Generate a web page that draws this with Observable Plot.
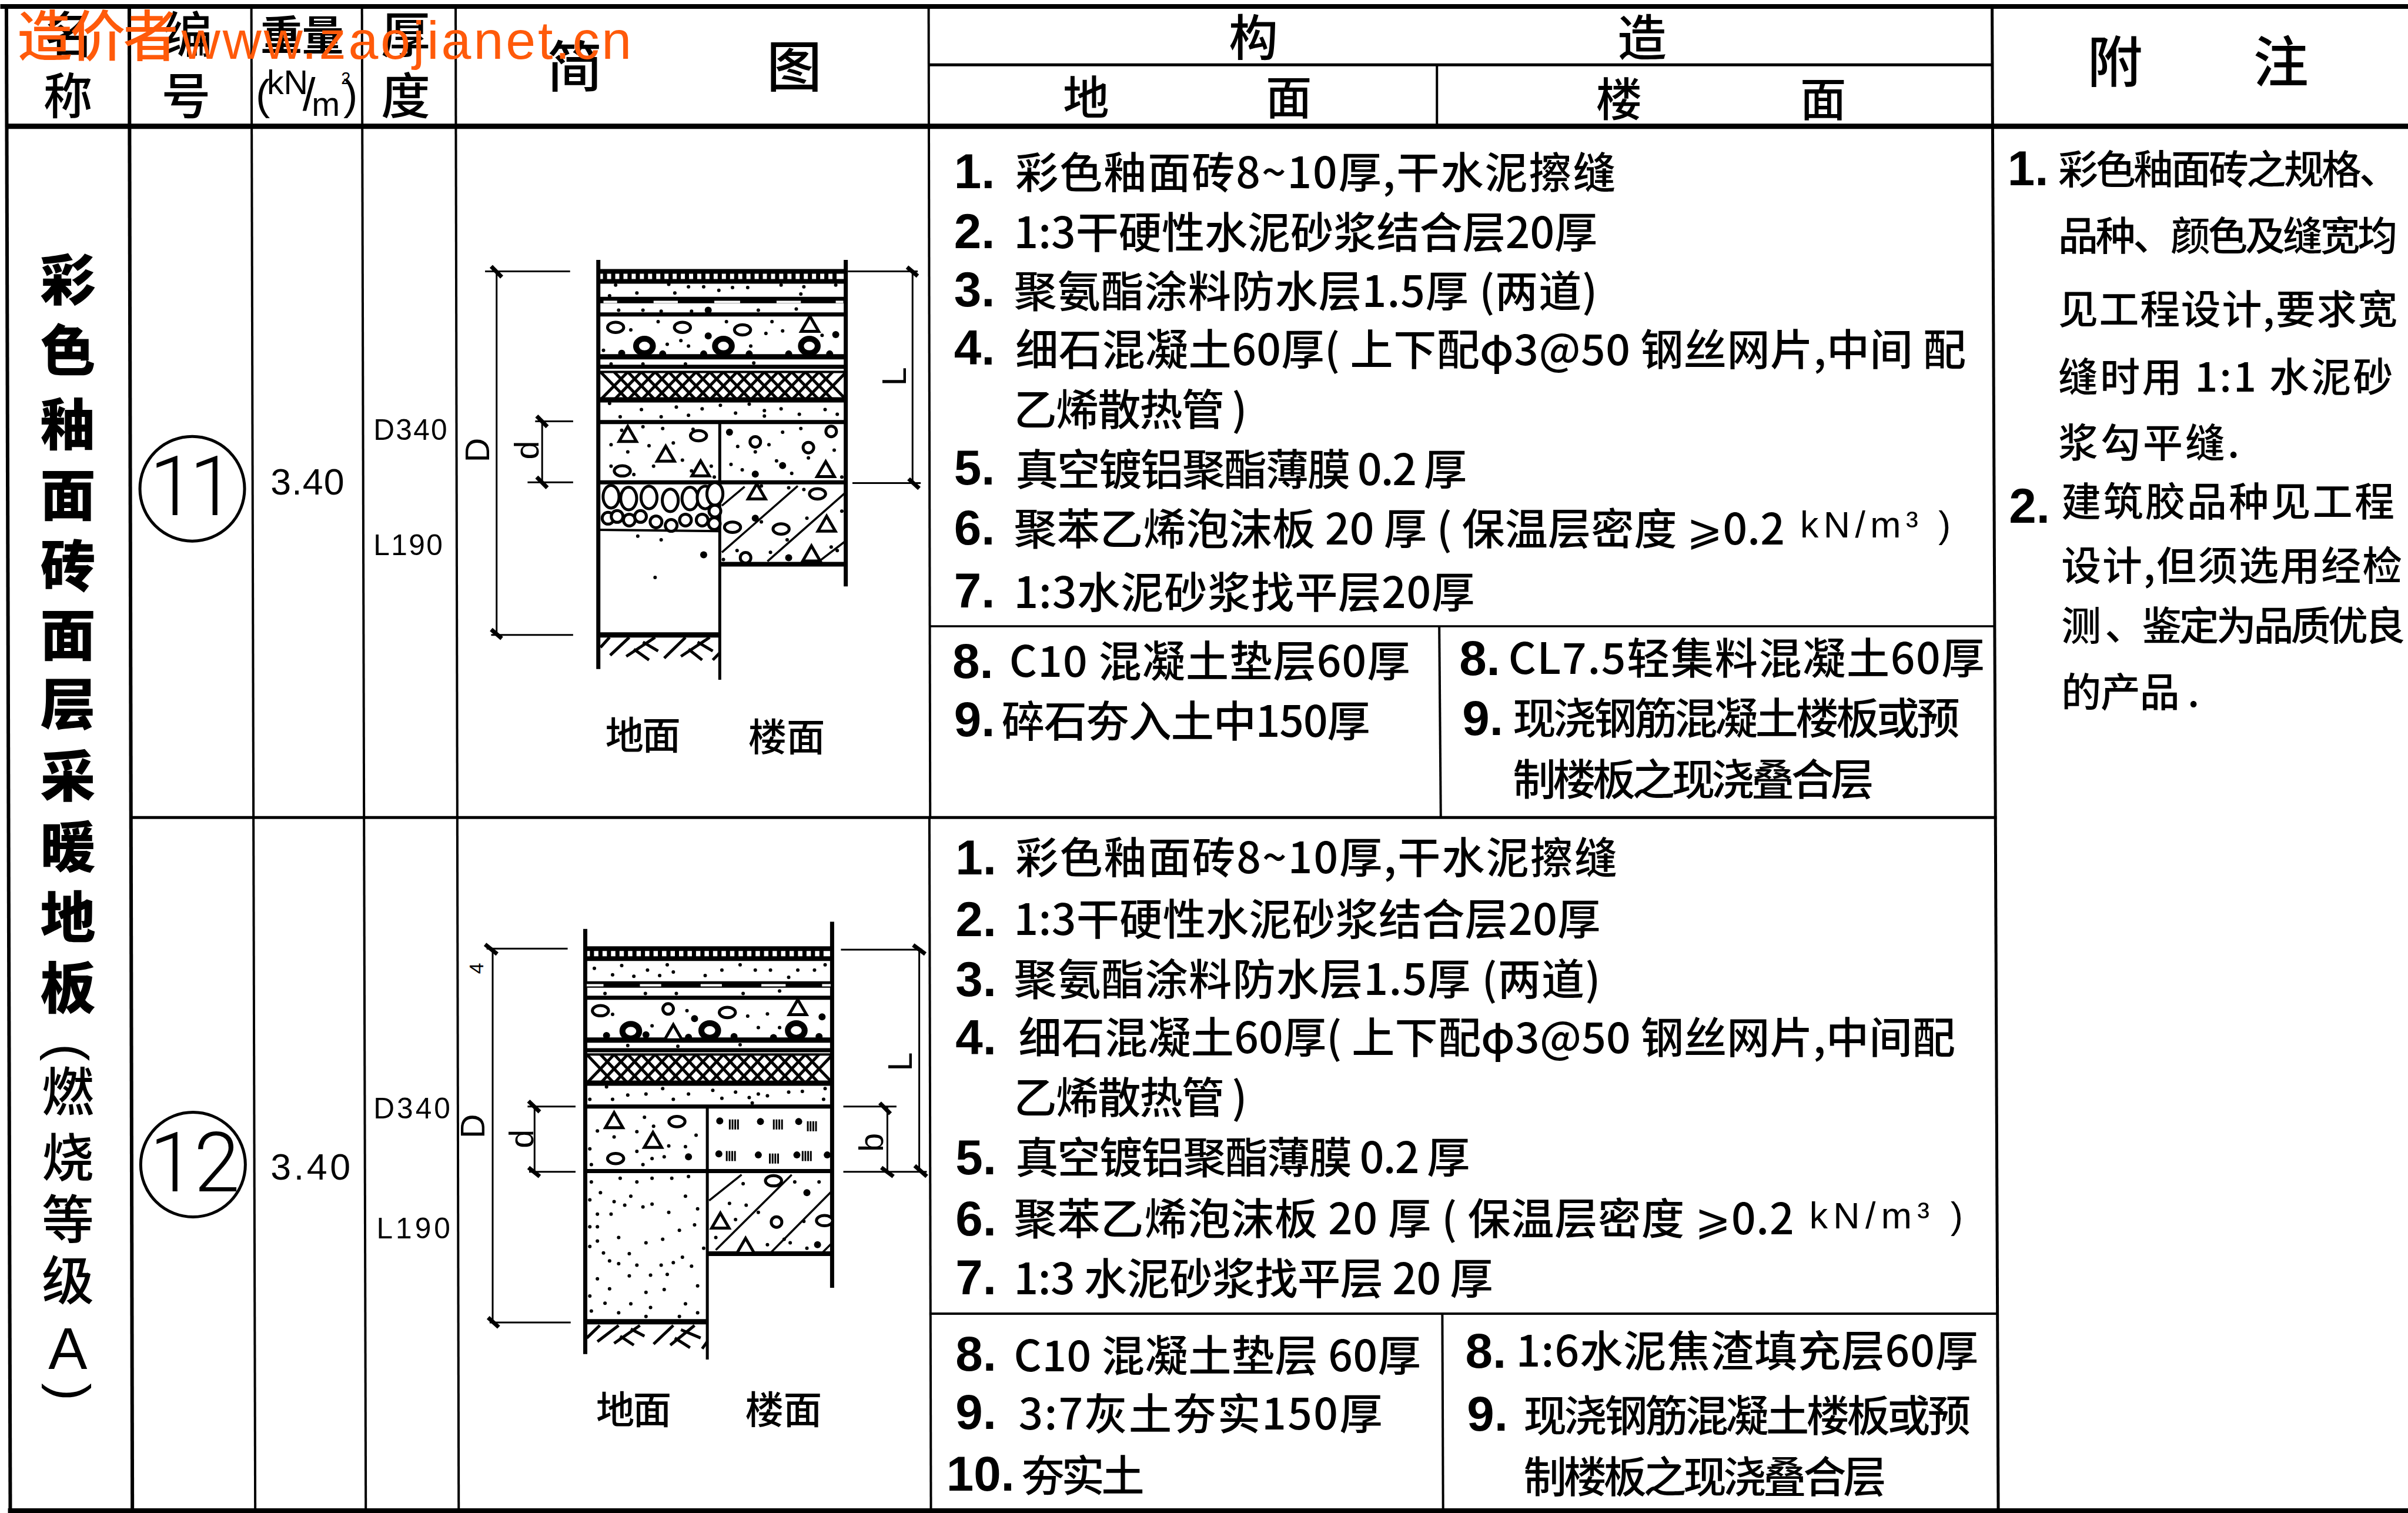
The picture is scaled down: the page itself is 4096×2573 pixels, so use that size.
<!DOCTYPE html>
<html><head><meta charset="utf-8">
<script src="https://cdn.jsdelivr.net/npm/d3@7"></script>
<script src="https://cdn.jsdelivr.net/npm/@observablehq/plot@0.6"></script>
<style>html,body{margin:0;padding:0;background:#fff;overflow:hidden}svg{display:block;background:#fff}</style>
</head><body><div id="chart"></div>
<script>
// ---------- text content ----------
const leftTitle = ["彩","色","釉","面","砖","面","层","采","暖","地","板"];
const leftTitleY = [184,230,278,324,370,415,460,507,553,599,645];
const leftGrade = ["燃","烧","等","级"];
const leftGradeY = [712,755,795,835];
const headText = ["名","称","编","号","厚","度","简","图","构","造","地","面","楼","面","附","注"];
const headX = [45,44,122,121,264,264,374,517,816,1069,707,839,1054,1187,1377,1485];
const headY = [24,64,24,64,24,64,45,45,26,26,65,65,66,66,42,42];
const headSize = [32,32,32,32,32,32,36,36,32,32,30,30,30,30,36,36];
const codes = ["11","12"], codePos = [[97,153,318],[97,156,758]], codeX=[125,125.5], codeY=[318,758];
const weights = ["3.40","3.40"], weightPos = [[176,224,314],[176,228,760]];
const thick = ["D340","L190","D340","L190"], thickPos = [[243,291,280],[243,288,355],[243,293,722],[245,293,800]];
const captions = ["地面","楼面","地面","楼面"];
const captionPos = [[394,443,478],[487,537,479],[388,437,917],[485,535,917]];

const numbers = ["1.","2.","3.","4.","5.","6.","7.","8.","9.","8.","9.",
                 "1.","2.","3.","4.","5.","6.","7.","8.","9.","10.","8.","9."];
const numberPos = [[621,112],[621,151],[621,189],[621,227],[621,305],[621,344],[621,385],[620,431],[621,469],[950,429],[952,468],
                   [622,559],[622,599],[622,638],[622,676],[622,754],[622,794],[622,832],[622,882],[622,920],[616,960],[954,880],[955,921]];
const floorText = [
 "彩色釉面砖8~10厚,干水泥擦缝","1:3干硬性水泥砂浆结合层20厚","聚氨酯涂料防水层1.5厚 (两道)",
 "细石混凝土60厚( 上下配φ3@50 钢丝网片,中间 配","乙烯散热管 )","真空镀铝聚酯薄膜 0.2 厚",
 "聚苯乙烯泡沫板 20 厚 ( 保温层密度 ⩾0.2","1:3水泥砂浆找平层20厚",
 "C10 混凝土垫层60厚","碎石夯入土中150厚","CL7.5轻集料混凝土60厚","现浇钢筋混凝土楼板或预","制楼板之现浇叠合层",
 "彩色釉面砖8~10厚,干水泥擦缝","1:3干硬性水泥砂浆结合层20厚","聚氨酯涂料防水层1.5厚 (两道)",
 "细石混凝土60厚( 上下配φ3@50 钢丝网片,中间配","乙烯散热管 )","真空镀铝聚酯薄膜 0.2 厚",
 "聚苯乙烯泡沫板 20 厚 ( 保温层密度 ⩾0.2","1:3 水泥砂浆找平层 20 厚",
 "C10 混凝土垫层 60厚","3:7灰土夯实150厚","夯实土","1:6水泥焦渣填充层60厚","现浇钢筋混凝土楼板或预","制楼板之现浇叠合层"];
const floorPos = [[661,1052,112],[660,1040,151],[660,1040,189],[661,1280,227],[660,812,266],[661,955,305],[660,1162,344],[660,960,385],
 [657,918,430],[652,892,469],[982,1292,428],[985,1276,467],[985,1220,507],
 [661,1053,558],[660,1042,598],[660,1042,637],[663,1273,675],[660,812,714],[661,957,753],[660,1168,793],[660,972,832],
 [660,925,882],[663,900,920],[665,745,960],[987,1288,879],[992,1283,921],[992,1228,961]];
const unitText = ["kN/m³ )","kN/m³ )"], unitPos = [[1172,1270,342],[1178,1278,792]];
const noteNumbers = ["1.","2."], noteNumberPos = [[1307,110],[1308,330]];
const noteText = ["彩色釉面砖之规格、","品种、颜色及缝宽均","见工程设计,要求宽","缝时用 1:1 水泥砂","浆勾平缝.",
                  "建筑胶品种见工程","设计,但须选用经检","测 、鉴定为品质优良","的产品 ."];
const notePos = [[1340,1562,110],[1340,1561,153],[1340,1561,201],[1340,1558,245],[1340,1458,288],
                 [1342,1559,326],[1342,1564,368],[1342,1566,407],[1342,1432,450]];

// ---------- table rules [x1,y1,x2,y2,width] ----------
const tableRules = [
 [0,4,1568,4,8],[5,82,1568,82,9],[5,983.5,1568,983.5,9],
 [4,4,6.5,983,6],[84,4,86,983,6],[163.5,4,166,983,4],[235.5,4,238,983,4],[296.5,4,298.5,983,4],
 [604.5,4,605.5,532,4],[1297,4,1301,983,5],[605,42,1297,42,5],[935.5,42,935.5,82,4],
 [85,532,1300,532,5],[605,407.5,1298,407.5,3.5],[937,407.5,938,532,4],
 [605,855,1300,855,4],[605,532,606,983,4],[939,855,939.5,983,4]];

// ---------- wall section sketches, in units of their own drawing sheet ----------
const s1Walls = [[473,60,473,1200,7],[1288,60,1288,970,7],[873,510,873,1230,5]];
const s1Bands = [[473,92,1288,92,8],[473,120,1288,120,8],[473,172,1288,172,11],[473,212,1288,212,7],[473,330,1288,330,9],[473,358,1288,358,7],
 [473,372,1288,372,4],[473,450,1288,450,9],[473,512,1288,512,7],[473,680,1288,680,7],[873,908,1288,908,8],[473,1105,873,1105,9],[473,812,873,816,4]];
const s1Dims = [[138,90,138,1105,3],[100,92,380,92,3],[120,1105,390,1105,3],[288,510,288,680,3],[265,510,390,510,3],[240,680,390,680,3],
 [1508,92,1508,682,3],[1295,92,1525,92,3],[1310,682,1535,682,3],
 [120,78,155,108,7],[120,1090,155,1115,7],[270,495,305,525,7],[270,665,305,695,7],[1490,80,1525,105,7],[1495,670,1530,697,7]];
const s1Hatch = [[880,745,955,692,3.5],[880,875,1130,690,3.5],[1030,900,1285,710,3.5],[1200,900,1285,845,3.5],
 [480,1140,510,1112,5],[512,1162,575,1112,5],[565,1165,660,1112,5],[690,1170,760,1112,5],[745,1165,840,1112,5],[620,1125,670,1150,5],[590,1145,640,1175,5],[800,1125,850,1150,5],[770,1145,815,1175,5],[850,1175,873,1155,5]];
const s1TileX = [495,522,549,576,603,630,657,684,711,738,765,792,819,846,873,900,927,954,981,1008,1035,1062,1089,1116,1143,1170,1197,1224,1251];
const s1Dashes = [[490,177,535,177],[655,177,735,177],[855,177,940,177],[1060,177,1140,177],[1255,177,1280,177]];
const s1MeshX = [480,525,570,615,660,705,750,795,840,885,930,975,1020,1065,1110,1155,1200];
const s1Specks = [[530,130],[600,152],[705,128],[725,152],[820,135],[915,137],[965,137],[1075,130],[1140,155],[1150,135],[510,160],[870,145],[770,135],[1255,130],
 [540,200],[620,200],[680,203],[780,203],[1125,197],[1000,200],[580,255],[1210,270],[1080,258],[1025,265],[770,300],[745,285],[700,295],[975,300],[670,232],[895,232],[1045,232],[490,312],
 [515,350],[620,350],[760,350],[985,347],[510,460],[545,497],[615,477],[680,497],[730,470],[770,493],[815,475],[875,465],[925,487],[970,462],[1020,480],[1075,475],[1135,490],[1220,477],[1260,490],[1020,495],
 [515,575],[550,535],[685,530],[640,578],[570,595],[750,618],[655,635],[515,635],[590,658],[780,648],[845,635],[855,665],[720,570],[785,532],[620,525],
 [1080,540],[932,580],[1035,575],[1140,530],[1250,590],[910,630],[947,645],[1165,612],[1110,655],[1275,665],[990,595],[1060,620],
 [603,830],[680,840],[660,945],[1010,690],[930,870],[990,780],[1275,760],[1100,695],[1150,700],[1095,840],[1040,875],[1260,870],[885,895],[1010,790],[1160,780],[1240,860]];
const s1BigSpecks = [[835,272],[1255,268],[550,320],[685,322],[820,322],[970,322],[1100,322],[1235,322],[835,200],[905,540],[990,657],[1080,633],[820,882],[1100,890],[990,780]];
const s1Ovals = [[530,248],[750,248],[948,255],[803,550],[552,648],[1195,712],[915,805],[1075,810]];
const s1Rings = [[990,567],[1165,583],[1240,538],[958,890]];
const s1Tubes = [[625,300],[885,300],[1168,300]];
const s1Tris = [[1170,245],[570,552],[695,607],[810,648],[1222,650],[995,712],[1225,802],[1175,885]];
const s1GravelTall = [[515,720],[573,725],[640,722],[710,730],[775,725],[825,722],[857,712]];
const s1GravelRound = [[505,780],[535,775],[575,785],[612,775],[663,790],[713,800],[760,785],[815,785],[855,795],[857,760]];
const s1Letters = [["D",78,590,22],["d",240,590,22],["L",1450,385,22]];

const s2Walls = [[430,55,430,1240,7],[1243,35,1243,1055,7],[832,550,832,1255,5]];
const s2Bands = [[430,110,1243,110,8],[430,138,1243,138,8],[430,210,1243,210,11],[430,247,1243,247,7],[430,365,1243,365,9],[430,393,1243,393,7],
 [430,405,1243,405,4],[430,485,1243,485,9],[430,550,1243,550,7],[430,730,1243,730,7],[832,960,1243,960,8],[430,1150,832,1150,9]];
const s2Dims = [[125,110,125,1150,3],[105,110,372,110,3],[115,1152,382,1152,3],[263,550,263,730,3],[240,550,398,550,3],[245,732,398,732,3],
 [1530,113,1530,730,3],[1272,113,1540,113,3],[1280,732,1555,732,3],[1425,550,1425,732,3],[1280,550,1455,550,3],
 [100,98,140,125,7],[110,1138,145,1165,7],[243,535,280,565,7],[243,720,280,745,7],[1510,100,1550,125,7],[1515,715,1555,745,7],[1400,540,1435,570,7],[1405,720,1445,745,7]];
const s2Hatch = [[838,812,945,740,3.5],[860,950,1110,740,3.5],[1040,958,1243,785,3.5],[1210,958,1243,930,3.5],
 [435,1195,478,1160,5],[470,1205,540,1160,5],[525,1210,610,1160,5],[655,1212,720,1160,5],[710,1215,790,1160,5],[580,1170,625,1190,5],[545,1190,590,1215,5],[745,1172,810,1195,5],[725,1195,775,1222,5],[815,1225,832,1205,5]];
const s2TileX = [452,480,508,536,564,592,620,648,676,704,732,760,788,816,844,872,900,928,956,984,1012,1040,1068,1096,1124,1152,1180,1208];
const s2Dashes = [[435,212,490,212],[610,212,680,212],[810,212,880,212],[1010,212,1090,212],[1210,212,1238,212]];
const s2MeshX = [435,480,525,570,615,660,705,750,795,840,885,930,975,1020,1065,1110,1155];
const s2Specks = [[460,165],[520,183],[550,157],[590,187],[635,170],[675,185],[700,155],[720,175],[825,185],[880,170],[940,155],[990,170],[1040,170],[1100,190],[1130,170],[1185,170],[1220,155],
 [520,293],[765,283],[965,298],[1030,292],[1000,330],[1070,330],[628,235],[730,235],[950,235],[1070,228],[495,235],[650,325],[570,380],[735,382],[940,378],
 [445,530],[500,495],[520,530],[570,518],[630,515],[685,500],[720,530],[770,515],[850,505],[880,527],[925,510],[970,525],[1000,515],[1030,520],[1100,510],[1145,508],[1220,500],[1215,530],[980,540],
 [470,618],[525,635],[600,620],[625,580],[655,605],[705,660],[795,630],[760,662],[600,675],[650,695],[620,712],[445,668],[450,712],[690,690],
 [450,760],[480,790],[545,750],[600,760],[650,750],[715,750],[770,745],[580,800],[525,815],[445,810],[620,830],[650,822],[705,845],[760,800],[800,835],[470,850],[515,850],[560,825],
 [445,885],[470,885],[540,915],[630,930],[685,920],[740,895],[790,880],[470,925],[445,940],[490,958],[575,960],[510,980],[540,988],[600,992],[680,992],[720,985],[780,995],[750,970],[820,945],
 [470,1030],[510,1058],[445,1078],[630,1068],[575,1022],[700,1018],[645,1020],[690,1060],[495,1098],[580,1100],[645,1110],[540,1125],[630,1135],[760,1100],[800,1125],[740,1135],[450,1120],[800,1050],
 [905,820],[1000,845],[1085,920],[1030,935],[1105,930],[1160,945],[950,765],[1120,760],[1200,760],[1150,870],[860,915],[925,865],[960,825]];
const s2BigSpecks = [[790,305],[1210,300],[500,352],[630,350],[770,357],[920,355],[1050,358],[1200,355],[770,690],[873,590],[1007,592],[1133,592],[870,682],[1000,685],[1127,685],[1227,685],[1160,790],[1195,935]];
const s2Ovals = [[480,283],[898,288],[732,592],[530,695],[1050,757],[1218,868]];
const s2Rings = [[703,278],[1060,872]];
const s2Tubes = [[580,340],[840,338],[1125,338]];
const s2Tris = [[1130,280],[720,350],[525,595],[653,650],[875,875],[958,945]];
const s2Bars = [[920,600],[1065,600],[1177,605],[910,688],[1052,695],[1160,688]];
const s2Letters = [["D",62,605,22],["d",222,640,22],["b",1375,650,22],["L",1470,425,22],["4",72,165,13]];

// ---------- page mapping ----------
const W = 4096, H = 2573, S = W / 1568;
const CJK = "'Noto Sans CJK SC','Liberation Sans',sans-serif";
const LAT = "'Liberation Sans','Noto Sans CJK SC',sans-serif";
const LIGHT = "Roboto,'Liberation Sans',sans-serif";
const ink = "#000";
const cx = v => 295.9 + 0.1977 * v;
const cy1 = v => 155 + 0.2336 * v;
const cy2 = v => 591.7 + 0.2336 * v;

const seg = ([x1,y1,x2,y2,w]) => ({x1,y1,x2,y2,w});
const links = (rows, o = {}) => Plot.link(rows, {x1:"x1",y1:"y1",x2:"x2",y2:"y2",stroke:ink,strokeWidth:"w",strokeLinecap:"butt",...o});

function fitted(rows, size, o = {}) {
  return Plot.text(rows, {x:"x0",y:"y",text:"t",fontSize:size*S,textAnchor:"start",lineAnchor:"middle",fill:ink,fontFamily:CJK,...o,
    render(index, scales, values, dims, ctx, next) {
      const g = next(index, scales, values, dims, ctx);
      g.querySelectorAll("text").forEach(el => {
        const d = rows[el.__data__];
        el.setAttribute("textLength", (d.x1 - d.x0) * S);
        el.setAttribute("lengthAdjust", "spacing");
      });
      return g;
    }});
}
const zipFit = (txt,pos) => txt.map((t,i) => ({t,x0:pos[i][0],x1:pos[i][1],y:pos[i][2]}));
const center = (rows,size,o={}) => Plot.text(rows,{x:"x",y:"y",text:"t",fontSize:size*S,lineAnchor:"middle",fill:ink,fontFamily:CJK,...o});
const ell = (sx,sy) => ({draw(c,size){const r=Math.sqrt(size/Math.PI),a=r*sx,b=r*sy,k=.5523;
  c.moveTo(a,0);c.bezierCurveTo(a,k*b,k*a,b,0,b);c.bezierCurveTo(-k*a,b,-a,k*b,-a,0);c.bezierCurveTo(-a,-k*b,-k*a,-b,0,-b);c.bezierCurveTo(k*a,-b,a,-k*b,a,0);c.closePath();}});

function sketch(A, cy) {
  const P = ([a,b]) => ({x:cx(a),y:cy(b)});
  const L = ([a,b,c,d,w]) => ({x1:cx(a),y1:cy(b),x2:cx(c),y2:cy(d),w});
  const top = cy === cy1 ? [92,125] : [110,140];
  const meshY = cy === cy1 ? [372,450] : [405,485];
  const dots = (pts,r,o={}) => Plot.dot(pts.map(P),{x:"x",y:"y",r,fill:ink,stroke:"none",...o});
  return [
    links(A.tile.map(a => L([a,top[0],a,top[1],7]))),
    links(A.mesh.flatMap(a => [L([a,meshY[0],a+90,meshY[1],5]),L([a+90,meshY[0],a,meshY[1],5])])),
    links(A.bands.map(L)), links(A.walls.map(L)), links(A.dims.map(L)), links(A.hatch.map(L)),
    links(A.dashes.map(d => L([...d,4])),{stroke:"#fff"}),
    dots(A.specks,3), dots(A.big,6),
    dots(A.ovals,11,{fill:"#fff",stroke:ink,strokeWidth:5,symbol:ell(1.25,.8)}),
    dots(A.rings,9,{fill:"#fff",stroke:ink,strokeWidth:5}),
    dots(A.tubes,13,{fill:"#fff",stroke:ink,strokeWidth:10,symbol:ell(1.1,.95)}),
    dots(A.tris,11,{fill:"#fff",stroke:ink,strokeWidth:5,symbol:"triangle"}),
    ...(A.gravelTall ? [dots(A.gravelTall,16,{fill:"#fff",stroke:ink,strokeWidth:5,symbol:ell(.85,1.2)}),
                        dots(A.gravelRound,10,{fill:"#fff",stroke:ink,strokeWidth:5})] : []),
    ...(A.bars ? [links(A.bars.flatMap(([a,b]) => [-14,-5,4,13].map(o => L([a+o,b-14,a+o,b+14,3]))))] : []),
    ...[22,13].map(sz => Plot.text(A.letters.filter(l=>l[3]===sz).map(([t,a,b]) => ({t,x:cx(a),y:cy(b)})),{x:"x",y:"y",text:"t",rotate:-90,fontSize:sz*S,fontFamily:LAT,fill:ink,lineAnchor:"middle"}))
  ];
}

const DY = 1.5 * S;
const plot = Plot.plot({
  width:W, height:H, margin:0,
  x:{domain:[0,1568],range:[0,W],axis:null},
  y:{domain:[0,985],range:[0,H],axis:null},
  r:{type:"identity"},
  style:{background:"#fff"},
  marks:[
    links(tableRules.map(seg)),
    ...sketch({walls:s1Walls,bands:s1Bands,dims:s1Dims,hatch:s1Hatch,tile:s1TileX,dashes:s1Dashes,mesh:s1MeshX,specks:s1Specks,big:s1BigSpecks,ovals:s1Ovals,rings:s1Rings,tubes:s1Tubes,tris:s1Tris,gravelTall:s1GravelTall,gravelRound:s1GravelRound,letters:s1Letters},cy1),
    ...sketch({walls:s2Walls,bands:s2Bands,dims:s2Dims,hatch:s2Hatch,tile:s2TileX,dashes:s2Dashes,mesh:s2MeshX,specks:s2Specks,big:s2BigSpecks,ovals:s2Ovals,rings:s2Rings,tubes:s2Tubes,tris:s2Tris,bars:s2Bars,letters:s2Letters},cy2),
    // header
    ...[30,32,36].map(sz => center(headText.map((t,i)=>({t,x:headX[i],y:headY[i],sz:headSize[i]})).filter(d=>d.sz===sz),sz,{fontWeight:500})),
    center([{t:"重",x:183,y:24},{t:"量",x:210,y:24}],27,{fontWeight:700}),
    center([{t:"(",x:171,y:62}],28,{fontFamily:LAT}),
    center([{t:")",x:228,y:62}],28,{fontFamily:LAT}),
    center([{t:"kN",x:187,y:54}],22,{fontFamily:LAT}),
    center([{t:"/",x:201,y:62}],30,{fontFamily:LAT}),
    center([{t:"m",x:212,y:68}],22,{fontFamily:LAT}),
    center([{t:"2",x:225,y:51}],11,{fontFamily:LAT}),
    // left title
    center(leftTitle.map((t,i)=>({t,x:44,y:leftTitleY[i]})),36,{fontWeight:900}),
    center(leftGrade.map((t,i)=>({t,x:44,y:leftGradeY[i]})),34,{fontWeight:500}),
    center([{t:"(",x:44,y:685},{t:")",x:45,y:906}],34,{fontFamily:LAT,rotate:90}),
    center([{t:"A",x:44,y:879}],38,{fontFamily:LAT}),
    // codes
    Plot.dot(codeX.map((x,i)=>({x,y:codeY[i]})),{x:"x",y:"y",r:89,fill:"none",stroke:ink,strokeWidth:5}),
    fitted(zipFit(codes,codePos),54,{fontFamily:LIGHT,fontWeight:300}),
    fitted(zipFit(weights,weightPos),24,{fontFamily:LAT}),
    fitted(zipFit(thick,thickPos),19,{fontFamily:LAT}),
    // captions
    fitted(zipFit(captions,captionPos),25,{fontWeight:500,dy:DY}),
    // numbers
    Plot.text(numbers.map((t,i)=>({t,x:numberPos[i][0],y:numberPos[i][1]})),{x:"x",y:"y",text:"t",textAnchor:"start",lineAnchor:"middle",fontSize:32*S,fontFamily:LAT,fontWeight:700,fill:ink}),
    Plot.text(noteNumbers.map((t,i)=>({t,x:noteNumberPos[i][0],y:noteNumberPos[i][1]})),{x:"x",y:"y",text:"t",textAnchor:"start",lineAnchor:"middle",fontSize:32*S,fontFamily:LAT,fontWeight:700,fill:ink}),
    // body
    fitted(zipFit(floorText,floorPos),28,{fontWeight:500,dy:DY}),
    fitted(zipFit(unitText,unitPos),24,{fontFamily:LAT}),
    fitted(zipFit(noteText,notePos),26,{fontWeight:500,dy:DY}),
    // watermark
    fitted([{t:"造价者",x0:11,x1:116,y:25}],36,{fill:"#ff5a0a",fontWeight:500}),
    fitted([{t:"www.zaojianet.cn",x0:118,x1:411,y:27}],35,{fill:"#ff5a0a",fontFamily:LAT})
  ]
});
document.getElementById("chart").appendChild(plot);
</script></body></html>
